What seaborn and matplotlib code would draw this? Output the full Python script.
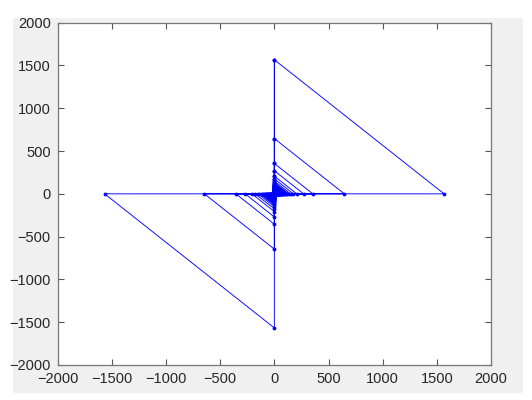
import numpy as np
import pandas as pd
import seaborn as sns
import matplotlib.pyplot as plt
from matplotlib.patches import Rectangle

# magnitude of each loop (largest first)
magnitudes = [1567, 646, 355, 270, 207, 176, 150, 132, 118, 105, 96, 88, 81,
              75, 69, 64, 59, 55, 51, 47, 44, 41, 38, 35, 32, 30, 27, 25, 23,
              21, 19, 17, 15, 13, 11, 9, 7, 5, 3, 1]
# each loop visits +y, +x, -x, -y and back to +y
x_dir = [0, 1, -1, 0, 0]
y_dir = [1, 0, 0, -1, 1]

xs = []
ys = []
for m in magnitudes:
    for dx, dy in zip(x_dir, y_dir):
        xs.append(dx * m)
        ys.append(dy * m)
df = pd.DataFrame({'x': xs, 'y': ys})

sns.set_style('white')
plt.rcParams['font.family'] = ['Liberation Sans', 'DejaVu Sans']

fig = plt.figure(figsize=(5.32, 4.0), dpi=100)
fig.patch.set_facecolor('white')
# grey window area like a matlab figure
bg = Rectangle((0.024, 0.0175), 0.959, 0.9375, transform=fig.transFigure,
               facecolor='#f0f0f0', edgecolor='none', zorder=-10)
fig.add_artist(bg)

ax = fig.add_axes([0.1085, 0.0875, 0.8144, 0.8558])
ax.set_zorder(5)
ax.set_facecolor('white')
sns.lineplot(data=df, x='x', y='y', sort=False, estimator=None, ax=ax,
             color='blue', linewidth=0.65, marker='.', markersize=4,
             markeredgecolor='blue', markerfacecolor='blue')

ax.set_xlim(-2000, 2000)
ax.set_ylim(-2000, 2000)
ax.set_xticks(np.arange(-2000, 2001, 500))
ax.set_yticks(np.arange(-2000, 2001, 500))
ax.set_xlabel('')
ax.set_ylabel('')
ax.tick_params(direction='in', length=4, width=0.8, color='#555555',
               labelsize=10.5, labelcolor='#262626',
               top=True, right=True, bottom=True, left=True)
ax.tick_params(axis='x', pad=5)
ax.tick_params(axis='y', pad=5)
for s in ax.spines.values():
    s.set_color('#777777')
    s.set_linewidth(0.9)
    s.set_visible(True)

fig.savefig('out.png', dpi=100)
